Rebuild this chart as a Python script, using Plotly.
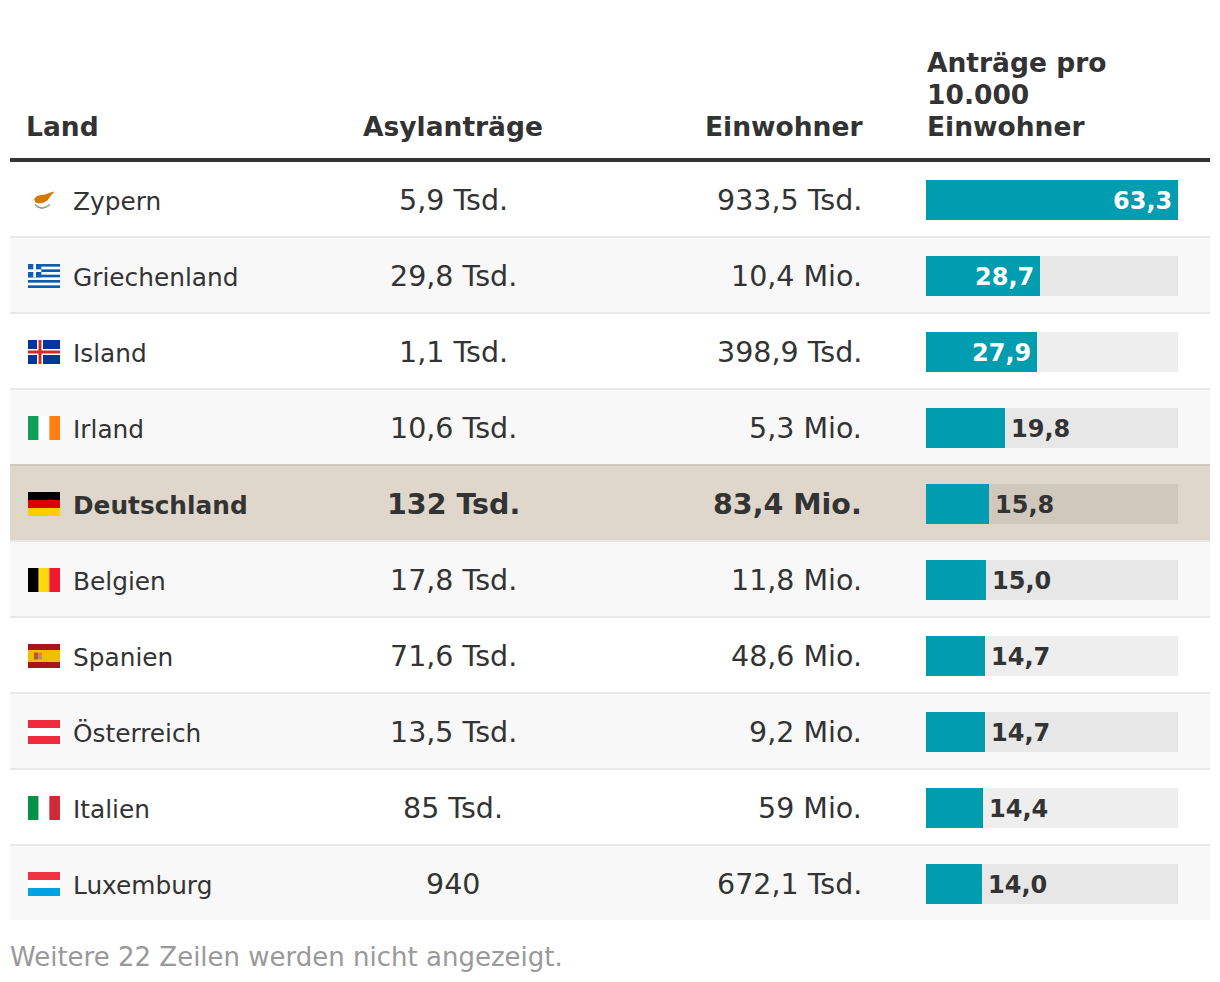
import plotly.graph_objects as go

# ---------- data ----------
countries = ["Zypern", "Griechenland", "Island", "Irland", "Deutschland",
             "Belgien", "Spanien", "Österreich", "Italien", "Luxemburg"]
applications = ["5,9 Tsd.", "29,8 Tsd.", "1,1 Tsd.", "10,6 Tsd.", "132 Tsd.",
                "17,8 Tsd.", "71,6 Tsd.", "13,5 Tsd.", "85 Tsd.", "940"]
population = ["933,5 Tsd.", "10,4 Mio.", "398,9 Tsd.", "5,3 Mio.", "83,4 Mio.",
              "11,8 Mio.", "48,6 Mio.", "9,2 Mio.", "59 Mio.", "672,1 Tsd."]
per_10k = [63.3, 28.7, 27.9, 19.8, 15.8, 15.0, 14.7, 14.7, 14.4, 14.0]
headers = ["Land", "Asylanträge", "Einwohner"]
last_header = ["Anträge pro", "10.000", "Einwohner"]
footer = "Weitere 22 Zeilen werden nicht angezeigt."
highlight = "Deutschland"

# flag definitions: stripe direction and colours
stripes = {
    "Deutschland": ("h", ["#000000", "#DD0000", "#FFCE00"]),
    "Belgien": ("v", ["#000000", "#FFD90C", "#F31830"]),
    "Österreich": ("h", ["#EF2B3D", "#FFFFFF", "#EF2B3D"]),
    "Italien": ("v", ["#009246", "#FFFFFF", "#CE2B37"]),
    "Irland": ("v", ["#0E9F56", "#FFFFFF", "#FF7F0E"]),
    "Luxemburg": ("h", ["#EF3340", "#FFFFFF", "#00A3E0"]),
}

# ---------- layout constants ----------
W, H = 1220, 982
TEXT = "#333333"
FONT = "DejaVu Sans"
TEAL = "#009DB1"
ROW_H = 76
FIRST_ROW_TOP = 162
L, R = 10, 1210
BAR_L, BAR_R = 926, 1178
BAR_H = 40
FLAG_L, FLAG_W, FLAG_H = 28, 32, 24
NAME_SIZE = 24.8
VALUE_SIZE = 28.5
BAR_LABEL_SIZE = 24
HEAD_SIZE = 26.5
scale_max = max(per_10k)

shapes, annotations = [], []


def rect(x0, y0, x1, y1, color, layer="below"):
    shapes.append(dict(type="rect", xref="x", yref="y", x0=x0, y0=y0, x1=x1, y1=y1,
                       fillcolor=color, line=dict(width=0), layer=layer))


def label(x, y, text, size=28, bold=False, anchor="left", color=TEXT, xref="x", xshift=0):
    annotations.append(dict(
        x=x, y=y, xref=xref, yref="y", text=text, showarrow=False,
        xanchor=anchor, yanchor="middle", xshift=xshift, borderpad=0, borderwidth=0,
        font=dict(family=FONT, size=size, color=color, weight=700 if bold else 400),
    ))


def flag(name, cy):
    x0, y0 = FLAG_L, cy - FLAG_H / 2
    x1, y1 = x0 + FLAG_W, y0 + FLAG_H
    if name in stripes:
        direction, cols = stripes[name]
        n = len(cols)
        for k, c in enumerate(cols):
            if direction == "h":
                rect(x0, y0 + FLAG_H * k / n, x1, y0 + FLAG_H * (k + 1) / n, c, "above")
            else:
                rect(x0 + FLAG_W * k / n, y0, x0 + FLAG_W * (k + 1) / n, y1, c, "above")
    elif name == "Griechenland":
        blue = "#0D5EAF"
        rect(x0, y0, x1, y1, "#FFFFFF", "above")
        for k in range(0, 9, 2):
            rect(x0, y0 + FLAG_H * k / 9, x1, y0 + FLAG_H * (k + 1) / 9, blue, "above")
        rect(x0, y0, x0 + 13.3, y0 + FLAG_H * 5 / 9, blue, "above")
        rect(x0 + 5.3, y0, x0 + 8, y0 + FLAG_H * 5 / 9, "#FFFFFF", "above")
        rect(x0, y0 + FLAG_H * 2 / 9, x0 + 13.3, y0 + FLAG_H * 3 / 9, "#FFFFFF", "above")
    elif name == "Island":
        rect(x0, y0, x1, y1, "#02379A", "above")
        rect(x0 + 9, y0, x0 + 15, y1, "#FFFFFF", "above")
        rect(x0, y0 + 9, x1, y0 + 15, "#FFFFFF", "above")
        rect(x0 + 10.5, y0, x0 + 13.5, y1, "#D72828", "above")
        rect(x0, y0 + 10.5, x1, y0 + 13.5, "#D72828", "above")
    elif name == "Spanien":
        rect(x0, y0, x1, y1, "#AA151B", "above")
        rect(x0, y0 + 6, x1, y0 + 18, "#F1BF00", "above")
        rect(x0 + 6, y0 + 8.5, x0 + 10, y0 + 15.5, "#B5563A", "above")
        rect(x0 + 10, y0 + 8.5, x0 + 14, y0 + 15.5, "#C98A5A", "above")
    elif name == "Zypern":
        island = [(6, 11), (9, 8), (13, 7), (17, 6.5), (20, 5.5), (23, 4.2), (26.5, 3.5),
                  (23, 7.5), (21, 10), (20, 12), (16, 14.5), (11, 15.5), (7.5, 14.5)]
        path = "M" + " L".join(f"{x0 + a},{y0 + b}" for a, b in island) + " Z"
        shapes.append(dict(type="path", xref="x", yref="y", path=path,
                           fillcolor="#D57800", line=dict(width=0), layer="above"))
        branch = [(7, 16.5), (10, 19), (14, 20.2), (18, 19), (22, 16.5)]
        path = "M" + " L".join(f"{x0 + a},{y0 + b}" for a, b in branch)
        shapes.append(dict(type="path", xref="x", yref="y", path=path,
                           line=dict(width=1.4, color="#8A9A7A"), layer="above"))


# ---------- table scaffold ----------
rect(L, 158, R, 162, TEXT)
row_centers, track_colors = [], []
for i, name in enumerate(countries):
    top = FIRST_ROW_TOP + i * ROW_H
    bottom = top + ROW_H
    is_hl = name == highlight
    striped = i % 2 == 1
    last = i == len(countries) - 1
    row_bg = "#DFD7CB" if is_hl else ("#F8F8F8" if striped else "#FFFFFF")
    rect(L, top, R, bottom - 2 if last else bottom, row_bg)
    if not last:
        next_hl = countries[i + 1] == highlight
        sep = "#D0C8BC" if next_hl else "#E8E8E8"
        rect(L, bottom - 2, R, bottom, sep)
    cy = top + 38
    row_centers.append(cy)
    track_colors.append("#D0C8BC" if is_hl else ("#E7E7E7" if striped else "#EEEEEE"))

    flag(name, cy)
    label(73, cy + 1, name, size=NAME_SIZE, bold=is_hl)
    label(453, cy, applications[i], size=VALUE_SIZE, bold=is_hl, anchor="center")
    label(862, cy, population[i], size=VALUE_SIZE, bold=is_hl, anchor="right")

    value_text = f"{per_10k[i]:.1f}".replace(".", ",")
    if per_10k[i] > 25:
        label(per_10k[i], cy + 1, value_text, size=BAR_LABEL_SIZE, bold=True, anchor="right",
              color="#FFFFFF", xref="x2", xshift=-6)
    else:
        label(per_10k[i], cy + 1, value_text, size=BAR_LABEL_SIZE, bold=True, anchor="left",
              xref="x2", xshift=6)

# ---------- headers ----------
label(26, 126, headers[0], size=HEAD_SIZE, bold=True)
label(453, 126, headers[1], size=HEAD_SIZE, bold=True, anchor="center")
label(863, 126, headers[2], size=HEAD_SIZE, bold=True, anchor="right")
for k, line in enumerate(last_header):
    label(927, 62 + 32 * k, line, size=HEAD_SIZE, bold=True)
label(10, 957, footer, size=26, color="#999999")

# ---------- figure ----------
fig = go.Figure()
fig.add_trace(go.Scatter(x=[0], y=[0], mode="markers", marker=dict(opacity=0),
                         hoverinfo="skip", showlegend=False, xaxis="x", yaxis="y"))
fig.add_trace(go.Bar(x=[scale_max] * len(countries), y=row_centers, orientation="h",
                     width=BAR_H, marker=dict(color=track_colors, line=dict(width=0)),
                     hoverinfo="skip", showlegend=False, xaxis="x2", yaxis="y"))
fig.add_trace(go.Bar(x=per_10k, y=row_centers, orientation="h", width=BAR_H,
                     marker=dict(color=TEAL, line=dict(width=0)),
                     hoverinfo="skip", showlegend=False, xaxis="x2", yaxis="y"))

fig.update_layout(
    width=W, height=H, autosize=False,
    margin=dict(l=0, r=0, t=0, b=0, pad=0),
    paper_bgcolor="#FFFFFF", plot_bgcolor="rgba(0,0,0,0)",
    barmode="overlay", bargap=0, showlegend=False,
    xaxis=dict(range=[0, W], domain=[0, 1], visible=False, fixedrange=True),
    xaxis2=dict(range=[0, scale_max], domain=[BAR_L / W, BAR_R / W], anchor="y",
                visible=False, fixedrange=True),
    yaxis=dict(range=[H, 0], domain=[0, 1], visible=False, fixedrange=True),
    shapes=shapes, annotations=annotations,
)

fig.write_html("out.html", config=dict(displayModeBar=False),
               post_script="document.body.style.margin='0';document.body.style.overflow='hidden';")
